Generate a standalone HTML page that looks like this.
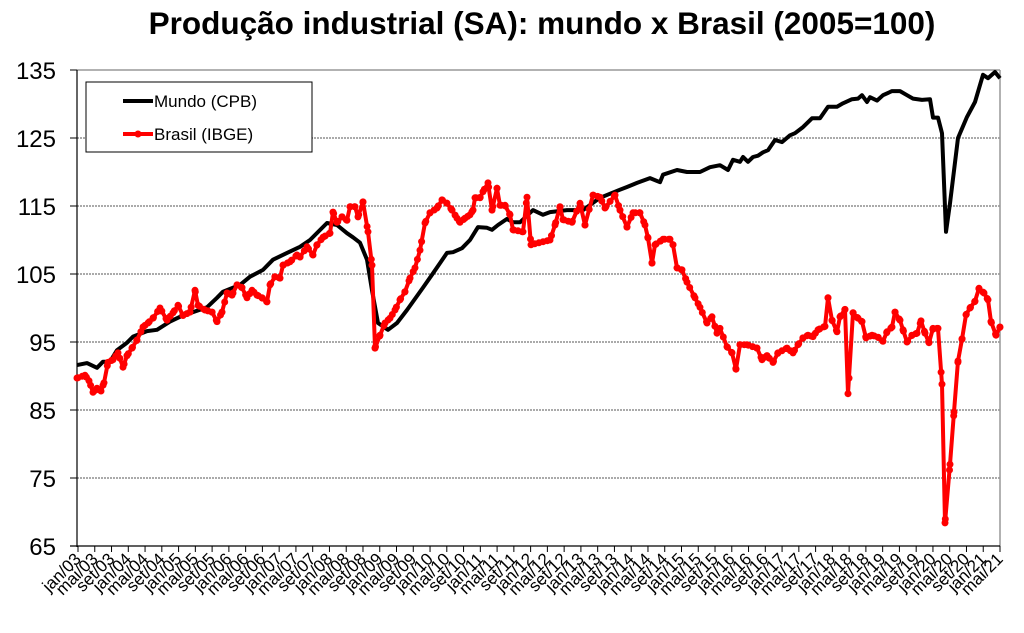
<!DOCTYPE html>
<html><head><meta charset="utf-8"><style>
body{margin:0;background:#fff;}
svg{display:block;font-family:"Liberation Sans",Arial,sans-serif;}
</style></head><body>
<svg id="c" width="1024" height="633" xmlns="http://www.w3.org/2000/svg"></svg>
<script>
const NS="http://www.w3.org/2000/svg";
const svg=document.getElementById('c');
function el(t,a,txt){const e=document.createElementNS(NS,t);for(const k in a)e.setAttribute(k,a[k]);if(txt!==undefined)e.textContent=txt;svg.appendChild(e);return e;}
const X0=78,DX=4.19,Y=v=>70+(135-v)*6.8;
el('rect',{x:0,y:0,width:1024,height:633,fill:'#fff'});
el('text',{x:542,y:34,'text-anchor':'middle','font-size':'31.5','font-weight':'bold'},'Produção industrial (SA): mundo x Brasil (2005=100)');
for(let v=75;v<=125;v+=10){el('line',{x1:77,x2:1000,y1:Y(v),y2:Y(v),stroke:'#555','stroke-width':1,'stroke-dasharray':'2,1'});}
el('line',{x1:77,x2:1000,y1:70,y2:70,stroke:'#999','stroke-width':1.5});
el('line',{x1:1000,x2:1000,y1:70,y2:546,stroke:'#999','stroke-width':1.5});
el('line',{x1:77,x2:77,y1:70,y2:547,stroke:'#000','stroke-width':1.2});
el('line',{x1:70,x2:1000,y1:546,y2:546,stroke:'#000','stroke-width':1.2});
for(let v=65;v<=135;v+=10){el('line',{x1:70,x2:77,y1:Y(v),y2:Y(v),stroke:'#000'});el('text',{x:56,y:Y(v)+9,'text-anchor':'end','font-size':'24'},v);}
const mn=['jan','mai','set'];
for(let k=0;k<=55;k++){const x=X0+k*(922/55);el('line',{x1:x,x2:x,y1:546,y2:552,stroke:'#000'});
 const yr=3+Math.floor(k/3);const lab=mn[k%3]+'/'+(yr<10?'0'+yr:yr);
 el('text',{x:x+4,y:560,'text-anchor':'end','font-size':'17',transform:`rotate(-45 ${x+4} 560)`},lab);}
function interp(pts,x){if(x<=pts[0][0])return pts[0][1];for(let i=1;i<pts.length;i++){if(x<=pts[i][0]){const a=pts[i-1],b=pts[i];return a[1]+(b[1]-a[1])*(x-a[0])/(b[0]-a[0]);}}return pts[pts.length-1][1];}
const blk=[[77,91.6],[87,91.9],[97,91.2],[103,92.1],[110,92.1],[117,93.8],[127,94.9],[133,95.8],[147,96.6],[157,96.8],[170,98],[180,98.7],[193,99.4],[207,100.1],[217,101.5],[223,102.4],[240,103.4],[250,104.6],[263,105.6],[273,107.1],[287,108.1],[300,109],[310,110],[327,112.5],[337,112.2],[347,111],[353,110.4],[360,109.6],[367,107.1],[372,102.6],[378,97.8],[388,96.8],[397,97.8],[407,99.7],[423,103],[433,105.1],[440,106.6],[447,108.1],[453,108.2],[462,108.8],[470,110],[478,111.9],[487,111.8],[492,111.5],[498,112.2],[507,113.1],[513,112.6],[520,112.6],[533,114.4],[543,113.7],[550,114.1],[567,114.4],[583,114.4],[600,116.2],[620,117.4],[627,117.8],[637,118.4],[650,119.1],[660,118.5],[663,119.6],[677,120.3],[687,120],[700,120],[710,120.7],[720,121],[728,120.3],[733,121.8],[740,121.5],[743,122.2],[748,121.5],[753,122.2],[758,122.4],[763,122.9],[768,123.2],[775,124.7],[782,124.4],[790,125.4],[795,125.7],[803,126.6],[812,127.9],[820,127.9],[828,129.6],[837,129.6],[843,130.1],[852,130.7],[858,130.8],[862,131.3],[867,130.3],[870,131],[877,130.5],[883,131.3],[892,131.9],[900,131.9],[907,131.3],[913,130.8],[922,130.6],[930,130.7],[933,128],[938,128],[942,125.7],[946,111.2],[950,115.4],[958,125],[967,128.1],[975,130.3],[983,134.3],[988,133.8],[995,134.7],[1000,133.8]];
const red=[[77,89.7],[85,90.1],[89,89.3],[93,87.6],[97,88.2],[101,87.8],[104,89],[108,92],[113,92.4],[118,93.4],[123,91.3],[127,93],[132,94.1],[137,95.3],[143,97.2],[148,97.8],[153,98.5],[160,100],[167,98.2],[173,99.3],[178,100.4],[183,98.9],[190,99.4],[195,102.6],[198,100.4],[205,99.7],[212,99.4],[217,98],[222,99.4],[227,102.2],[232,101.9],[237,103.4],[242,103],[247,101.5],[252,102.6],[257,101.9],[262,101.5],[267,100.9],[270,103.4],[275,104.6],[280,104.4],[283,106.3],[290,106.8],[297,107.8],[300,107.5],[307,109],[313,107.8],[317,109.3],[323,110.4],[330,111],[333,114.1],[337,112.6],[342,113.4],[347,112.9],[350,114.9],[355,114.9],[358,113.4],[363,115.6],[368,111.2],[372,106.3],[375,94.1],[380,96],[385,97.8],[390,98.5],[395,99.7],[400,101.2],[405,102.4],[410,104.4],[415,105.9],[420,108.5],[425,112.5],[430,114],[437,114.7],[442,115.9],[447,115.4],[452,114.4],[457,113.2],[460,112.6],[465,113.2],[470,113.7],[473,114.4],[475,116.2],[480,116.2],[483,117.1],[488,118.4],[492,114.4],[497,117.6],[500,115.1],[505,115.1],[510,113.7],[513,111.5],[523,111.2],[527,116.3],[531,109.3],[550,110],[555,112.2],[560,114.9],[563,113],[572,112.6],[580,115.4],[585,112.2],[593,116.6],[600,116.3],[605,114.7],[615,116.6],[620,114.4],[627,111.9],[633,114],[640,114],[645,112.2],[648,110.3],[652,106.6],[655,109.3],[663,110.1],[670,110.1],[673,109.3],[677,105.9],[682,105.6],[687,103.8],[695,101.5],[700,100.1],[707,97.8],[712,98.7],[717,96.3],[720,97],[727,94.3],[732,93.4],[736,91],[740,94.6],[747,94.6],[757,94.1],[762,92.4],[767,93],[773,92],[778,93.4],[787,94.1],[793,93.4],[798,94.6],[803,95.6],[808,96],[813,95.8],[818,96.8],[825,97.3],[828,101.5],[832,98.2],[837,96.5],[840,98.7],[845,99.8],[848,87.4],[853,99.3],[858,98.5],[862,98],[866,95.6],[872,96],[878,95.7],[883,95.1],[887,96.5],[892,97.2],[895,99.4],[900,98.2],[903,96.8],[907,95],[912,96],[917,96.3],[921,98.1],[925,96.3],[929,94.9],[933,97],[938,97],[942,88.8],[945,68.4],[950,77],[954,84.7],[958,92.2],[962,95.4],[966,99],[970,100],[975,101],[979,102.9],[984,102.2],[988,101.2],[991,98],[996,96],[1000,97.2]];
el('polyline',{points:blk.map(p=>p[0]+','+Y(p[1]).toFixed(1)).join(' '),fill:'none',stroke:'#000','stroke-width':4,'stroke-linejoin':'round'});
el('polyline',{points:red.map(p=>p[0]+','+Y(p[1]).toFixed(1)).join(' '),fill:'none',stroke:'#f00','stroke-width':4,'stroke-linejoin':'round'});
for(const p of red){el('circle',{cx:p[0],cy:Y(p[1]).toFixed(1),r:3.5,fill:'#f00'});}
for(let i=0;i<=220;i++){const x=Math.min(X0+i*DX,1000);el('circle',{cx:x.toFixed(1),cy:Y(interp(red,x)).toFixed(1),r:3.5,fill:'#f00'});}
el('rect',{x:86,y:82,width:226,height:70,fill:'#fff',stroke:'#000','stroke-width':1});
el('line',{x1:123,x2:153,y1:101,y2:101,stroke:'#000','stroke-width':4});
el('text',{x:154,y:107,'font-size':'17'},'Mundo (CPB)');
el('line',{x1:123,x2:153,y1:134,y2:134,stroke:'#f00','stroke-width':4});
el('circle',{cx:138,cy:134,r:3.5,fill:'#f00'});
el('text',{x:154,y:140,'font-size':'17'},'Brasil (IBGE)');
</script>
</body></html>
